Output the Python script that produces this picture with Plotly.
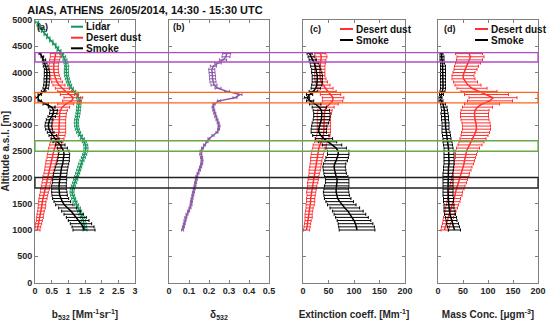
import plotly.graph_objects as go

# ---------------- data ----------------
alt_lidar = list(range(1000, 5000, 60))   # 1000 ... 4960 m
alt_comp = list(range(1000, 4400, 60))    # 1000 ... 4360 m

b_lidar = [1.50, 1.49, 1.47, 1.45, 1.42, 1.38, 1.34, 1.30, 1.25, 1.20,
           1.16, 1.13, 1.11, 1.12, 1.15, 1.19, 1.22, 1.25, 1.28, 1.31,
           1.34, 1.37, 1.41, 1.45, 1.49, 1.52, 1.53, 1.52, 1.48, 1.42,
           1.36, 1.31, 1.27, 1.25, 1.24, 1.25, 1.27, 1.29, 1.30, 1.31,
           1.32, 1.33, 1.31, 1.25, 1.16, 1.09, 1.04, 1.00, 0.97, 0.95,
           0.94, 0.94, 0.95, 0.93, 0.90, 0.86, 0.80, 0.72, 0.66, 0.58,
           0.49, 0.40, 0.32, 0.24, 0.17, 0.11, 0.06]
b_lidar_err = [0.06, 0.06, 0.06, 0.06, 0.06, 0.06, 0.06, 0.06, 0.06, 0.06,
               0.06, 0.06, 0.06, 0.06, 0.06, 0.06, 0.06, 0.06, 0.06, 0.06,
               0.06, 0.06, 0.06, 0.06, 0.06, 0.06, 0.06, 0.06, 0.06, 0.06,
               0.06, 0.06, 0.06, 0.06, 0.06, 0.06, 0.06, 0.06, 0.06, 0.06,
               0.06, 0.06, 0.06, 0.06, 0.06, 0.06, 0.06, 0.06, 0.06, 0.06,
               0.06, 0.06, 0.06, 0.06, 0.06, 0.06, 0.06, 0.06, 0.05, 0.05,
               0.05, 0.05, 0.05, 0.05, 0.05, 0.05, 0.05]

b_dust = [0.07, 0.09, 0.11, 0.13, 0.15, 0.16, 0.18, 0.20, 0.21, 0.22,
          0.24, 0.26, 0.28, 0.30, 0.32, 0.34, 0.36, 0.38, 0.41, 0.43,
          0.45, 0.47, 0.49, 0.52, 0.54, 0.56, 0.59, 0.62, 0.65, 0.68,
          0.70, 0.72, 0.72, 0.72, 0.72, 0.72, 0.73, 0.74, 0.76, 0.82,
          0.92, 1.10, 1.15, 1.02, 0.92, 0.82, 0.72, 0.66, 0.62, 0.59,
          0.57, 0.56, 0.56, 0.57, 0.59, 0.61, 0.62]
b_dust_err = [0.08, 0.08, 0.09, 0.09, 0.10, 0.10, 0.10, 0.11, 0.11, 0.11,
              0.12, 0.12, 0.12, 0.13, 0.13, 0.13, 0.13, 0.14, 0.14, 0.14,
              0.15, 0.15, 0.16, 0.16, 0.17, 0.17, 0.18, 0.18, 0.19, 0.19,
              0.20, 0.20, 0.20, 0.20, 0.20, 0.20, 0.20, 0.20, 0.21, 0.22,
              0.24, 0.27, 0.28, 0.26, 0.24, 0.21, 0.18, 0.16, 0.15, 0.14,
              0.14, 0.14, 0.14, 0.14, 0.15, 0.15, 0.16]

b_smoke = [1.47, 1.44, 1.38, 1.31, 1.24, 1.16, 1.08, 0.98, 0.88, 0.82,
           0.77, 0.74, 0.73, 0.72, 0.72, 0.73, 0.74, 0.75, 0.76, 0.78,
           0.80, 0.83, 0.85, 0.86, 0.87, 0.86, 0.82, 0.76, 0.67, 0.60,
           0.53, 0.47, 0.42, 0.40, 0.41, 0.44, 0.50, 0.55, 0.56, 0.50,
           0.32, 0.14, 0.06, 0.14, 0.26, 0.32, 0.34, 0.35, 0.35, 0.36,
           0.36, 0.35, 0.32, 0.30, 0.27, 0.22, 0.15]
b_smoke_err = [0.33, 0.33, 0.32, 0.31, 0.30, 0.29, 0.28, 0.27, 0.26, 0.25,
               0.24, 0.23, 0.23, 0.22, 0.22, 0.21, 0.21, 0.20, 0.20, 0.19,
               0.19, 0.18, 0.18, 0.17, 0.17, 0.16, 0.15, 0.14, 0.13, 0.12,
               0.11, 0.10, 0.10, 0.10, 0.10, 0.10, 0.11, 0.11, 0.11, 0.10,
               0.08, 0.05, 0.04, 0.05, 0.07, 0.08, 0.08, 0.08, 0.08, 0.08,
               0.08, 0.07, 0.07, 0.06, 0.05, 0.04, 0.03]

depol = [0.068, 0.072, 0.076, 0.080, 0.084, 0.090, 0.098, 0.105, 0.110, 0.112,
         0.115, 0.119, 0.122, 0.126, 0.130, 0.133, 0.136, 0.139, 0.145, 0.152,
         0.158, 0.163, 0.165, 0.163, 0.159, 0.160, 0.168, 0.178, 0.190, 0.200,
         0.220, 0.240, 0.248, 0.250, 0.246, 0.240, 0.234, 0.229, 0.224, 0.220,
         0.225, 0.250, 0.330, 0.355, 0.290, 0.245, 0.225, 0.220, 0.218, 0.217,
         0.215, 0.214, 0.222, 0.245, 0.270, 0.285, 0.288]
depol_err = [0.005, 0.005, 0.005, 0.005, 0.005, 0.005, 0.005, 0.005, 0.005, 0.005,
             0.005, 0.005, 0.005, 0.005, 0.005, 0.005, 0.005, 0.005, 0.005, 0.005,
             0.005, 0.005, 0.005, 0.005, 0.005, 0.005, 0.005, 0.005, 0.005, 0.005,
             0.005, 0.005, 0.005, 0.005, 0.005, 0.005, 0.005, 0.005, 0.005, 0.005,
             0.006, 0.008, 0.010, 0.010, 0.012, 0.015, 0.015, 0.015, 0.015, 0.015,
             0.015, 0.015, 0.015, 0.016, 0.018, 0.020, 0.020]

ext_dust = [7, 8, 9, 10, 11, 11, 12, 13, 14, 15,
            15, 16, 16, 17, 18, 19, 20, 21, 22, 23,
            24, 25, 26, 27, 28, 29, 31, 33, 36, 38,
            40, 41, 41, 41, 41, 41, 41, 42, 43, 46,
            52, 58, 59, 54, 48, 44, 40, 36, 34, 33,
            33, 33, 33, 34, 35, 36, 34]
ext_dust_err = [6, 6, 6, 6, 7, 7, 7, 7, 8, 8,
                8, 8, 9, 9, 9, 10, 10, 10, 10, 11,
                11, 11, 11, 12, 12, 12, 12, 13, 13, 13,
                13, 13, 13, 13, 13, 13, 13, 14, 14, 15,
                17, 20, 21, 20, 17, 15, 13, 12, 11, 10,
                10, 10, 10, 10, 10, 11, 11]

ext_smoke = [106, 105, 103, 100, 96, 92, 88, 82, 76, 72,
             68, 66, 65, 65, 66, 67, 67, 65, 63, 62,
             61, 62, 65, 67, 69, 69, 65, 57, 48, 41,
             35, 31, 31, 32, 34, 36, 37, 37, 36, 32,
             24, 14, 8, 13, 20, 25, 27, 28, 28, 28,
             27, 26, 24, 22, 19, 16, 13]
ext_smoke_err = [35, 35, 34, 33, 32, 31, 30, 29, 28, 27,
                 26, 25, 25, 24, 24, 23, 23, 23, 22, 22,
                 22, 22, 22, 22, 21, 21, 20, 19, 18, 17,
                 16, 15, 15, 15, 16, 16, 16, 16, 16, 14,
                 11, 7, 5, 6, 8, 9, 10, 10, 10, 10,
                 10, 9, 9, 8, 7, 6, 5]

mass_dust = [13, 15, 17, 19, 21, 23, 25, 27, 29, 31,
             32, 34, 35, 37, 39, 41, 43, 45, 46, 48,
             50, 52, 53, 55, 56, 57, 60, 64, 67, 70,
             73, 75, 77, 77, 76, 74, 73, 73, 74, 79,
             88, 104, 110, 97, 82, 68, 60, 55, 51, 50,
             52, 55, 57, 60, 63, 65, 62]
mass_dust_err = [7, 8, 8, 9, 10, 10, 11, 12, 12, 13,
                 13, 14, 14, 15, 15, 16, 16, 17, 17, 18,
                 18, 19, 20, 20, 21, 22, 23, 24, 25, 26,
                 27, 28, 28, 28, 28, 28, 28, 28, 28, 30,
                 35, 45, 48, 44, 36, 30, 26, 24, 23, 22,
                 22, 23, 24, 25, 26, 27, 27]

mass_smoke = [33, 31, 29, 27, 26, 24, 23, 22, 22, 21,
              21, 20, 20, 20, 20, 20, 20, 20, 20, 21,
              21, 22, 22, 22, 22, 22, 21, 20, 19, 18,
              17, 16, 15, 15, 15, 14, 14, 13, 13, 12,
              10, 6, 5, 7, 9, 10, 10, 10, 10, 10,
              10, 10, 10, 9, 8, 8, 7]
mass_smoke_err = [12, 12, 12, 11, 11, 11, 11, 10, 10, 10,
                  10, 10, 10, 10, 10, 10, 10, 10, 10, 10,
                  10, 10, 10, 10, 10, 10, 9, 9, 9, 8,
                  8, 8, 7, 7, 7, 7, 7, 7, 6, 6,
                  5, 4, 3, 4, 5, 5, 5, 5, 5, 5,
                  5, 5, 5, 4, 4, 4, 3]

# layers marked by boxes (bottom, top) [m]
layer_bottom = [4200, 3420, 2500, 1800]
layer_top = [4380, 3620, 2700, 2000]

x_ticks_a = [0, 0.5, 1, 1.5, 2, 2.5, 3]
x_ticks_b = [0, 0.1, 0.2, 0.3, 0.4, 0.5]
x_ticks_cd = [0, 50, 100, 150, 200]
y_ticks = [0, 500, 1000, 1500, 2000, 2500, 3000, 3500, 4000, 4500, 5000]

# ---------------- style ----------------
W, H = 550, 321
FONT = "Liberation Sans, Arial, sans-serif"
C_LIDAR = "#14945a"
C_DUST = "#ff3030"
C_SMOKE = "#000000"
C_DEPOL = "#8a5aa6"
C_BOX = ["#b24cc4", "#ff6418", "#6aa84a", "#222222"]
AX_C = "#7f7f7f"
TXT_C = "#262626"

def px(x):
    return x / W

def py(y):
    return 1 - y / H

fig = go.Figure()

def add_profile(x, err, y, color, name, xa, ya, cap=1.5):
    fig.add_trace(go.Scatter(
        x=x, y=y, mode="lines", name=name, showlegend=False,
        line=dict(color=color, width=1.5),
        error_x=dict(type="data", array=err, color=color, thickness=1, width=cap),
        xaxis=xa, yaxis=ya))

add_profile(b_lidar, b_lidar_err, alt_lidar, C_LIDAR, "Lidar", "x", "y")
add_profile(b_dust, b_dust_err, alt_comp, C_DUST, "Desert dust", "x", "y")
add_profile(b_smoke, b_smoke_err, alt_comp, C_SMOKE, "Smoke", "x", "y")
add_profile(depol, depol_err, alt_comp, C_DEPOL, "δ532", "x2", "y2")
add_profile(ext_dust, ext_dust_err, alt_comp, C_DUST, "Desert dust", "x3", "y3")
add_profile(ext_smoke, ext_smoke_err, alt_comp, C_SMOKE, "Smoke", "x3", "y3")
add_profile(mass_dust, mass_dust_err, alt_comp, C_DUST, "Desert dust", "x4", "y4")
add_profile(mass_smoke, mass_smoke_err, alt_comp, C_SMOKE, "Smoke", "x4", "y4")

y_dom = [py(282.5), py(20)]
x_doms = [[px(35), px(135)], [px(169), px(269)], [px(303), px(405)], [px(438), px(538)]]
x_ranges = [[0, 3], [0, 0.5], [0, 200], [0, 200]]
x_tickvals = [x_ticks_a, x_ticks_b, x_ticks_cd, x_ticks_cd]
x_titles = ["b<sub>532</sub> [Mm<sup>-1</sup>sr<sup>-1</sup>]",
            "δ<sub>532</sub>",
            "Extinction coeff. [Mm<sup>-1</sup>]",
            "Mass Conc. [μgm<sup>-3</sup>]"]

tickfont = dict(family=FONT, size=9, color=TXT_C, weight="bold")
titlefont = dict(family=FONT, size=10, color=TXT_C, weight="bold")
common = dict(showline=True, linecolor=AX_C, linewidth=1, mirror="ticks",
              ticks="inside", ticklen=3, tickcolor=AX_C, showgrid=False,
              zeroline=False, tickfont=tickfont, automargin=False)

layout = dict(width=W, height=H, margin=dict(l=0, r=0, t=0, b=0, autoexpand=False),
              paper_bgcolor="white", plot_bgcolor="white",
              font=dict(family=FONT, color=TXT_C), showlegend=False,
              title=dict(text="AIAS, ATHENS\u00a0\u00a026/05/2014, 14:30 - 15:30 UTC",
                         x=px(145), xanchor="center", y=py(10), yanchor="middle",
                         font=dict(family=FONT, size=11, color="#111", weight="bold")))

for i in range(4):
    sfx = "" if i == 0 else str(i + 1)
    layout["xaxis" + sfx] = dict(
        domain=x_doms[i], range=x_ranges[i], tickvals=x_tickvals[i],
        anchor="y" + sfx, title=dict(text=x_titles[i], font=titlefont),
        **common)
    yax = dict(domain=y_dom, range=[0, 5000], tickvals=y_ticks, anchor="x" + sfx,
               showticklabels=(i == 0), **common)
    if i == 0:
        yax["title"] = dict(text="Altitude a.s.l. [m]", font=titlefont)
    layout["yaxis" + sfx] = yax

fig.update_layout(**layout)

# layer boxes spanning all four panels
for yb, yt, c in zip(layer_bottom, layer_top, C_BOX):
    fig.add_shape(type="rect", xref="paper", yref="y",
                  x0=px(35), x1=px(538), y0=yb, y1=yt,
                  line=dict(color=c, width=1.3), fillcolor="rgba(0,0,0,0)")

# panel labels
for lab, xx, yy in [("(a)", 42.5, 27), ("(b)", 179, 27), ("(c)", 315, 29), ("(d)", 450, 29)]:
    fig.add_annotation(x=px(xx), y=py(yy), xref="paper", yref="paper", text=lab,
                       showarrow=False, xanchor="center", yanchor="middle",
                       font=dict(family=FONT, size=9, color="#111", weight="bold"))

# legends (drawn manually to get compact spacing)
def legend(entries, x0, x1, xt, ys):
    for (name, c), yy in zip(entries, ys):
        fig.add_shape(type="line", xref="paper", yref="paper",
                      x0=px(x0), x1=px(x1), y0=py(yy), y1=py(yy),
                      line=dict(color=c, width=2))
        fig.add_annotation(x=px(xt), y=py(yy), xref="paper", yref="paper",
                           text=name, showarrow=False, xanchor="left", yanchor="middle",
                           font=dict(family=FONT, size=10, color="#111", weight="bold"))

legend([("Lidar", C_LIDAR), ("Desert dust", C_DUST), ("Smoke", C_SMOKE)],
       71, 83, 84, [26.7, 37.7, 48.3])
legend([("Desert dust", C_DUST), ("Smoke", C_SMOKE)], 340, 353, 354, [29, 40])
legend([("Desert dust", C_DUST), ("Smoke", C_SMOKE)], 475, 488, 489, [29, 40])

fig.write_html("out.html", config={"displayModeBar": False},
               post_script="document.body.style.margin='0';document.body.style.overflow='hidden';")
